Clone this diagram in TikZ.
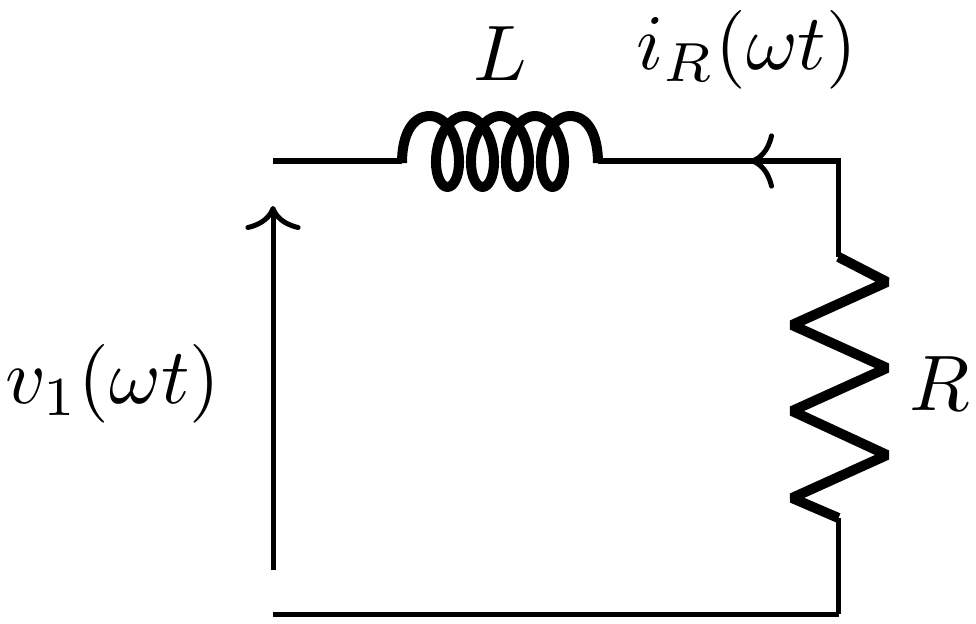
\documentclass[tikz,border=0pt]{standalone}
\usepackage{amsmath}
\usetikzlibrary{arrows.meta}

\tikzset{
	wire/.style={line width=0.125cm},
	elem/.style={line width=0.25cm, line join=bevel},
	sense/.style={line width=0.125cm, -{Computer Modern Rightarrow[length=0.6cm,width=1.38cm,round]}},
	lbl/.style={inner sep=0pt, scale=5.6}
}

\begin{document}
\begin{tikzpicture}[x=0.025cm, y=-0.025cm]
		\useasboundingbox (0,0) rectangle (976,624);
		\coordinate (topl) at (273,161);
		\coordinate (coill) at (402,163);
		\coordinate (coilr) at (598,163);
		\coordinate (wl) at (402,161);
		\coordinate (wr) at (598,161);
		\coordinate (tip) at (750,161);
		\coordinate (corner) at (838.5,161);
		\coordinate (rt) at (838.5,257);
		\coordinate (rb) at (838.5,518);
		\coordinate (botr) at (838.5,614);
		\coordinate (botl) at (273,614);
		\coordinate (vs) at (273,570);
		\coordinate (vt) at (273,206);
		% wires
		\draw[wire] (topl)--(wl);
		\draw[wire] (wr)--(tip);
		\draw[wire, line join=miter] (tip)--(corner)--(rt);
		\draw[wire] (rb)--(botr);
		\draw[wire] (botr)--(botl);
		% inductor
		\draw[elem] (coill) .. controls (402,135) and (412,116) .. (430,116)
			-- plot[domain=90:1530, samples=161, variable=\t] ({430+0.09722*(\t-90)-19.5*cos(\t)},{151.5-35.5*sin(\t)})
			.. controls (588,116) and (598,135) .. (coilr);
		% resistor
		\draw[elem] (rt)--(887,282)--(792,325)--(887,368)--(792,411)--(887,455)--(792,498)--(rb);
		% arrows
		\draw[sense] (corner)--(tip);
		\draw[sense] (vs)--(vt);
		% labels
		\node[lbl] (ll) at (500,54) {$L$};
		\node[lbl] (li) at (747,50) {$i_R(\omega t)$};
		\node[lbl] (lv) at (113,384) {$v_1(\omega t)$};
		\node[lbl] (lr) at (940,384) {$R$};
	\end{tikzpicture}
\end{document}
